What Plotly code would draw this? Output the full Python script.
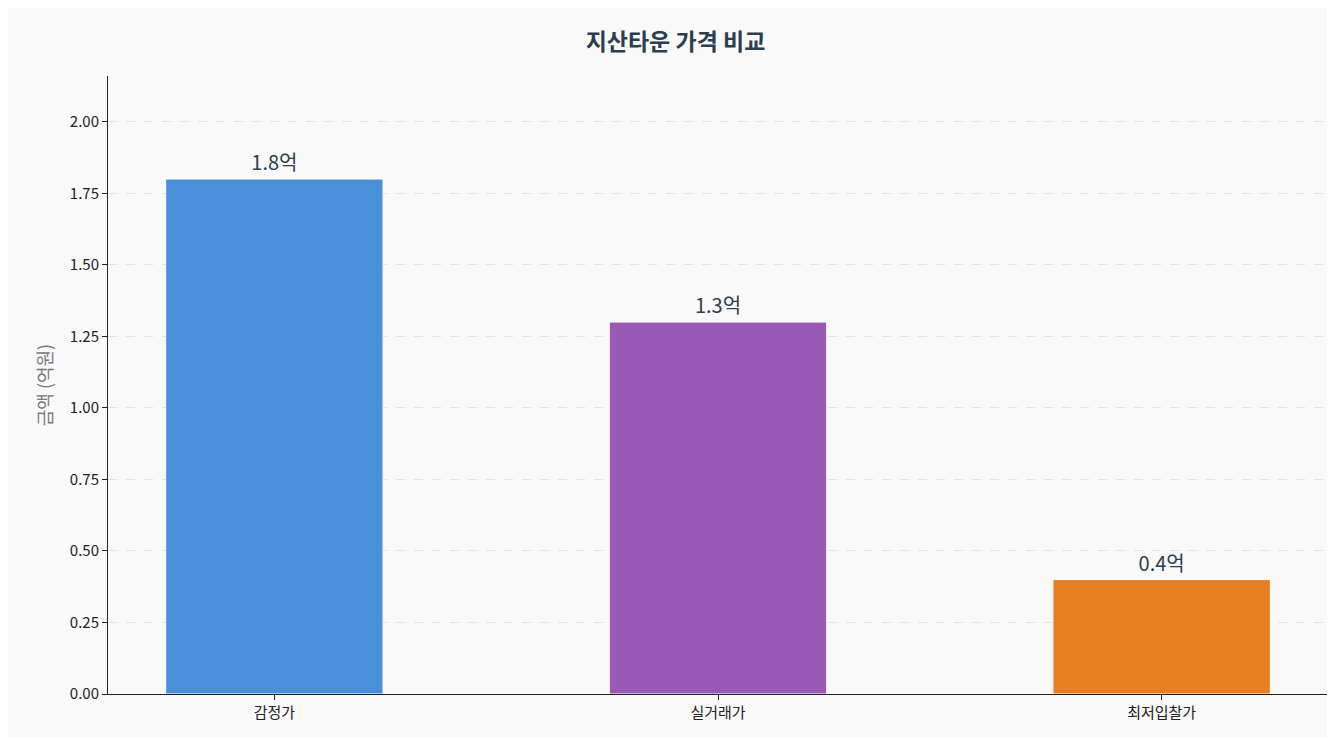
import plotly.graph_objects as go

categories = ["감정가", "실거래가", "최저입찰가"]
values = [1.8, 1.3, 0.4]
labels = ["1.8억", "1.3억", "0.4억"]
colors = ["#4a90d9", "#9b59b6", "#e67e22"]

fig = go.Figure(go.Bar(
    x=categories, y=values, width=0.49,
    marker=dict(color=colors, line=dict(color="white", width=1)),
    text=labels, textposition="outside",
    textfont=dict(size=20, color="#2c3e50", family="Noto Sans CJK KR"),
    cliponaxis=False,
))
fig.update_layout(
    width=1335, height=737,
    margin=dict(l=100, r=15, t=68, b=51),
    paper_bgcolor="#f9f9f9", plot_bgcolor="#f9f9f9",
    font=dict(family="Noto Sans CJK KR", size=15, color="#222"),
    title=dict(text="<b>지산타운 가격 비교</b>", x=0.5, xanchor="center", y=0.965,
               font=dict(size=23, color="#2c3e50")),
    showlegend=False,
    bargap=0.5,
)
fig.update_xaxes(range=[-0.375, 2.375], showline=True, linecolor="#222", ticks="outside",
                 ticklen=5, tickcolor="#222", showgrid=False)
fig.update_yaxes(range=[0, 2.16], tickvals=[0, 0.25, 0.5, 0.75, 1.0, 1.25, 1.5, 1.75, 2.0],
                 ticktext=["0.00", "0.25", "0.50", "0.75", "1.00", "1.25", "1.50", "1.75", "2.00"],
                 showline=True, linecolor="#222", ticks="outside", ticklen=5, tickcolor="#222",
                 showgrid=True, gridcolor="#e3e3e3", griddash="dash", zeroline=False,
                 title=dict(text="금액 (억원)", font=dict(size=18, color="#777"), standoff=12))
fig.write_html("out.html")
